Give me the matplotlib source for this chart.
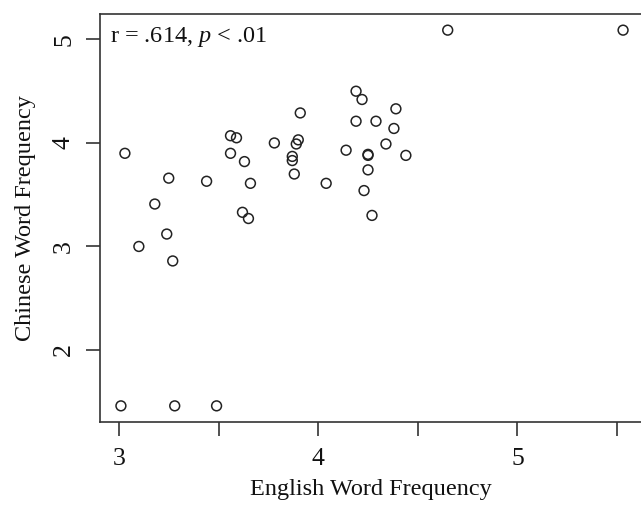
import numpy as np
import matplotlib
matplotlib.use("Agg")
import matplotlib.pyplot as plt

plt.rcParams['font.family'] = ['Liberation Serif', 'DejaVu Serif']
plt.rcParams['mathtext.fontset'] = 'custom'
plt.rcParams['mathtext.rm'] = 'Liberation Serif'
plt.rcParams['mathtext.it'] = 'Liberation Serif:italic'

# English vs Chinese word frequency
english = [3.01, 3.28, 3.49, 4.65, 5.53, 3.03, 3.56, 3.59, 3.56, 3.63,
           3.78, 3.25, 3.44, 3.66, 3.18, 3.62, 3.65, 3.24, 3.10, 3.27,
           4.19, 4.22, 4.39, 3.91, 4.19, 4.29, 4.38, 3.90, 3.89, 4.34,
           4.14, 4.25, 4.25, 4.44, 3.87, 3.87, 4.25, 3.88, 4.04, 4.23,
           4.27]
chinese = [1.46, 1.46, 1.46, 5.09, 5.09, 3.90, 4.07, 4.05, 3.90, 3.82,
           4.00, 3.66, 3.63, 3.61, 3.41, 3.33, 3.27, 3.12, 3.00, 2.86,
           4.50, 4.42, 4.33, 4.29, 4.21, 4.21, 4.14, 4.03, 3.99, 3.99,
           3.93, 3.88, 3.89, 3.88, 3.87, 3.83, 3.74, 3.70, 3.61, 3.54,
           3.30]

x_ticks = [3, 3.5, 4, 4.5, 5, 5.5]
x_ticklabels = ["3", "", "4", "", "5", ""]
y_ticks = [2, 3, 4, 5]
y_ticklabels = ["2", "3", "4", "5"]

fig = plt.figure(figsize=(6.41, 5.05), dpi=100)
ax = fig.add_axes([100 / 641, 83 / 505, 542 / 641, 408 / 505])

ax.scatter(english, chinese, s=50, facecolors="none", edgecolors="#222222",
           linewidths=1.1, zorder=3)

ax.set_xlim(2.905, 5.625)
ax.set_ylim(1.304, 5.246)

ax.set_xticks(x_ticks)
ax.set_xticklabels(x_ticklabels)
ax.set_yticks(y_ticks)
ax.set_yticklabels(y_ticklabels, rotation=90, va="center")

for s in ax.spines.values():
    s.set_color("#333333")
    s.set_linewidth(1.2)

ax.tick_params(axis="both", length=10, width=1.2, color="#333333",
               labelsize=18.5, labelcolor="#111111")
ax.tick_params(axis="x", pad=9)
ax.tick_params(axis="y", pad=8)

ax.set_xlabel("English Word Frequency", fontsize=17.5, color="#111111", labelpad=6)
ax.set_ylabel("Chinese Word Frequency", fontsize=17.5, color="#111111", labelpad=12)

ax.annotate("r = .614, $p$ < .01", xy=(0, 1), xycoords="axes fraction",
            xytext=(7, -20), textcoords="offset points", ha="left",
            va="baseline", fontsize=17.5, color="#111111")

fig.savefig("out.png", dpi=100)
